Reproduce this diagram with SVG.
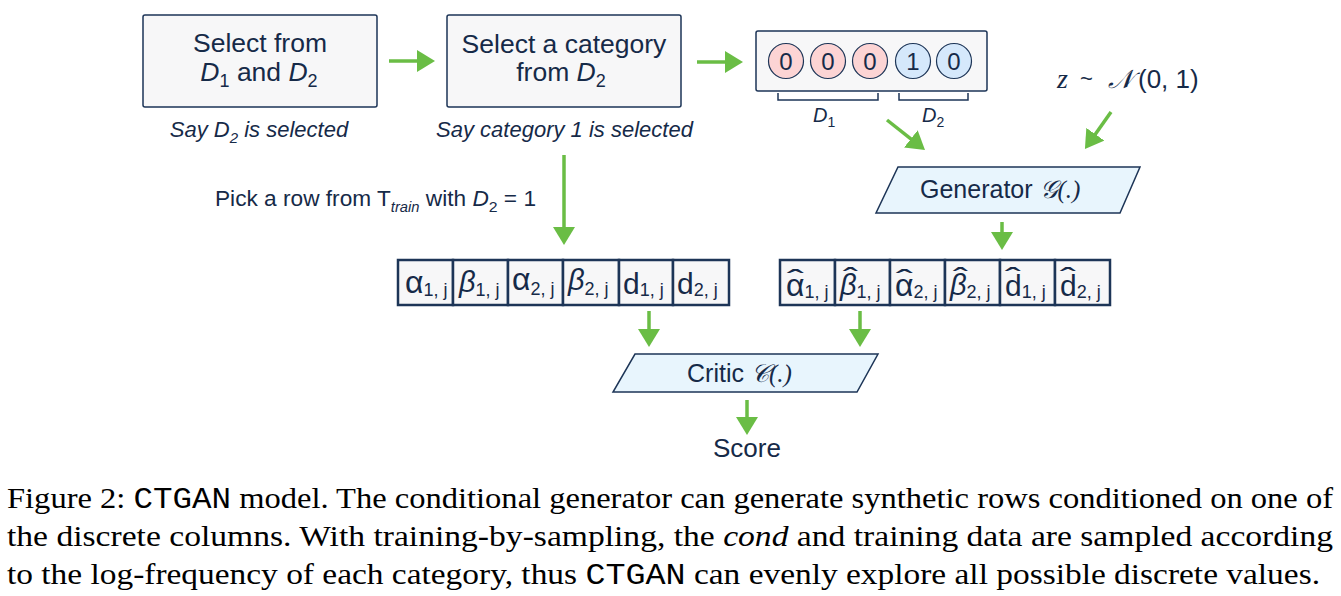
<svg xmlns="http://www.w3.org/2000/svg" width="1341" height="596" viewBox="0 0 1341 596">
<style>
.box{fill:#f7f7f8;stroke:#1d3557;stroke-width:1.5}
.cell{fill:#f7f7f8;stroke:#1d3557;stroke-width:2.5}
.para{fill:#e8f5fd;stroke:#1d3557;stroke-width:1.5}
.t{fill:#162a48;font-family:"Liberation Sans",Arial,sans-serif}
.m{font-family:"Liberation Serif","Times New Roman",serif;font-style:italic}
.cap{fill:#000;font-size:30px;font-family:"Liberation Serif","Times New Roman",serif}
.mono{font-family:"Liberation Mono","Courier New",monospace}
.arr{stroke:#6abd45;stroke-width:3.5;fill:none;marker-end:url(#ah)}
.pink{fill:#fcd4d4;stroke:#1d3557;stroke-width:1.2}
.blue{fill:#d5e8fb;stroke:#1d3557;stroke-width:1.2}
.br{fill:none;stroke:#1d3557;stroke-width:1.5}
</style>
<defs>
<marker id="ah" markerUnits="userSpaceOnUse" markerWidth="20" markerHeight="22" refX="4" refY="11" orient="auto">
<path d="M0,0 L18,11 L0,22 Z" fill="#6abd45"/>
</marker>
</defs>
<rect width="1341" height="596" fill="#fff"/>

<g id="select1">
<rect class="box" x="143" y="15" width="234" height="92" rx="2"/>
<text class="t" x="260" y="52" font-size="26.5" text-anchor="middle">Select from</text>
<text class="t" x="259" y="81" font-size="26.5" text-anchor="middle"><tspan font-style="italic">D</tspan><tspan font-size="18" dy="6">1</tspan><tspan dy="-6"> and </tspan><tspan font-style="italic">D</tspan><tspan font-size="18" dy="6">2</tspan></text>
<text class="t" x="259" y="137" font-size="22" font-style="italic" text-anchor="middle">Say D<tspan font-size="15" dy="6">2</tspan><tspan dy="-6"> is selected</tspan></text>
</g>

<g id="select2">
<rect class="box" x="447" y="15" width="234" height="92" rx="2"/>
<text class="t" x="564" y="53" font-size="26.5" text-anchor="middle">Select a category</text>
<text class="t" x="561" y="81" font-size="26.5" text-anchor="middle">from <tspan font-style="italic">D</tspan><tspan font-size="18" dy="6">2</tspan></text>
<text class="t" x="564.5" y="137" font-size="22" font-style="italic" text-anchor="middle">Say category 1 is selected</text>
</g>

<g id="cond">
<rect class="box" x="756" y="31" width="231" height="60" rx="2"/>
<circle class="pink" cx="786" cy="61" r="17.5"/>
<circle class="pink" cx="828" cy="61" r="17.5"/>
<circle class="pink" cx="870" cy="61" r="17.5"/>
<circle class="blue" cx="913" cy="61" r="17.5"/>
<circle class="blue" cx="954" cy="61" r="17.5"/>
<text class="t" font-size="24" text-anchor="middle" x="786" y="70">0</text>
<text class="t" font-size="24" text-anchor="middle" x="828" y="70">0</text>
<text class="t" font-size="24" text-anchor="middle" x="870" y="70">0</text>
<text class="t" font-size="24" text-anchor="middle" x="913" y="70">1</text>
<text class="t" font-size="24" text-anchor="middle" x="954" y="70">0</text>
<path class="br" d="M778,93 V100 H878 V93"/>
<path class="br" d="M899,93 V100 H968 V93"/>
<text class="t" x="813" y="122" font-size="20" font-style="italic">D<tspan font-size="14" dy="5" font-style="normal">1</tspan></text>
<text class="t" x="922" y="122" font-size="20" font-style="italic">D<tspan font-size="14" dy="5" font-style="normal">2</tspan></text>
</g>

<g id="noise">
<text class="t" x="1057" y="88" font-size="26"><tspan class="m" font-size="28">z</tspan><tspan x="1080" font-size="22" dy="-2">~</tspan><tspan class="m" x="1108" dy="2">𝒩</tspan><tspan x="1138">(0, 1)</tspan></text>
</g>

<g id="generator">
<polygon class="para" points="898,167 1140,167 1120,213 876,213"/>
<text class="t" x="920" y="198" font-size="25">Generator <tspan class="m">𝒢(.)</tspan></text>
</g>

<g id="pick">
<text class="t" x="215" y="206" font-size="21.5" textLength="321" lengthAdjust="spacingAndGlyphs">Pick a row from T<tspan font-size="14" font-style="italic" dy="6">train</tspan><tspan dy="-6"> with </tspan><tspan font-style="italic">D</tspan><tspan font-size="15" dy="6">2</tspan><tspan dy="-6"> = 1</tspan></text>
</g>

<g id="real-row">
<rect class="cell" x="398" y="260" width="55" height="45"/>
<rect class="cell" x="453" y="260" width="55" height="45"/>
<rect class="cell" x="508" y="260" width="55" height="45"/>
<rect class="cell" x="563" y="260" width="56" height="45"/>
<rect class="cell" x="619" y="260" width="54" height="45"/>
<rect class="cell" x="673" y="260" width="56" height="45"/>
<text class="t" font-size="32" x="405" y="293">α<tspan font-size="18" dy="3">1, j</tspan></text>
<text class="t" font-size="29" x="459" y="292"><tspan font-style="italic">β</tspan><tspan font-size="18" dy="4">1, j</tspan></text>
<text class="t" font-size="32" x="512" y="290">α<tspan font-size="18" dy="5">2, j</tspan></text>
<text class="t" font-size="29" x="568" y="290"><tspan font-style="italic">β</tspan><tspan font-size="18" dy="5">2, j</tspan></text>
<text class="t" font-size="30" x="623" y="294">d<tspan font-size="18" dy="2">1, j</tspan></text>
<text class="t" font-size="30" x="677" y="294">d<tspan font-size="18" dy="2">2, j</tspan></text>
</g>

<g id="fake-row">
<rect class="cell" x="780" y="260" width="55" height="45"/>
<rect class="cell" x="835" y="260" width="55" height="45"/>
<rect class="cell" x="890" y="260" width="55" height="45"/>
<rect class="cell" x="945" y="260" width="55" height="45"/>
<rect class="cell" x="1000" y="260" width="55" height="45"/>
<rect class="cell" x="1055" y="260" width="55" height="45"/>
<text class="t" font-size="32" x="786" y="296">α<tspan font-size="18" dy="2">1, j</tspan><tspan x="787" y="290" font-size="30" textLength="17" lengthAdjust="spacingAndGlyphs">ˆ</tspan></text>
<text class="t" font-size="29" x="840" y="295"><tspan font-style="italic">β</tspan><tspan font-size="18" dy="3">1, j</tspan><tspan x="843" y="288" font-size="30" textLength="15" lengthAdjust="spacingAndGlyphs">ˆ</tspan></text>
<text class="t" font-size="32" x="895" y="296">α<tspan font-size="18" dy="2">2, j</tspan><tspan x="896" y="290" font-size="30" textLength="17" lengthAdjust="spacingAndGlyphs">ˆ</tspan></text>
<text class="t" font-size="29" x="950" y="295"><tspan font-style="italic">β</tspan><tspan font-size="18" dy="3">2, j</tspan><tspan x="953" y="288" font-size="30" textLength="15" lengthAdjust="spacingAndGlyphs">ˆ</tspan></text>
<text class="t" font-size="30" x="1005" y="296">d<tspan font-size="18" dy="2">1, j</tspan><tspan x="1005" y="288" font-size="30" textLength="16" lengthAdjust="spacingAndGlyphs">ˆ</tspan></text>
<text class="t" font-size="30" x="1060" y="296">d<tspan font-size="18" dy="2">2, j</tspan><tspan x="1060" y="288" font-size="30" textLength="16" lengthAdjust="spacingAndGlyphs">ˆ</tspan></text>
</g>

<g id="critic">
<polygon class="para" points="635,354 878,354 857,392 613,392"/>
<text class="t" x="687" y="382" font-size="25">Critic <tspan class="m">𝒞(.)</tspan></text>
</g>

<g id="score">
<text class="t" x="747" y="457" font-size="26" text-anchor="middle">Score</text>
</g>

<g id="connectors">
<line class="arr" x1="389" y1="61" x2="421" y2="61"/>
<line class="arr" x1="697" y1="62" x2="729" y2="62"/>
<line class="arr" x1="887" y1="120" x2="914" y2="141.3"/>
<line class="arr" x1="1111" y1="112" x2="1093" y2="137.5"/>
<line class="arr" x1="564" y1="155" x2="564" y2="231"/>
<line class="arr" x1="1002" y1="222" x2="1002" y2="236"/>
<line class="arr" x1="649" y1="311" x2="649" y2="333"/>
<line class="arr" x1="860" y1="311" x2="860" y2="333"/>
<line class="arr" x1="747" y1="400" x2="747" y2="421"/>
</g>

<g id="caption">
<text class="cap" x="7" y="508" textLength="1326" lengthAdjust="spacingAndGlyphs">Figure 2: <tspan class="mono">CTGAN</tspan> model. The conditional generator can generate synthetic rows conditioned on one of</text>
<text class="cap" x="7" y="546" textLength="1326" lengthAdjust="spacingAndGlyphs">the discrete columns. With training-by-sampling, the <tspan font-style="italic">cond</tspan> and training data are sampled according</text>
<text class="cap" x="7" y="584" textLength="1313" lengthAdjust="spacingAndGlyphs">to the log-frequency of each category, thus <tspan class="mono">CTGAN</tspan> can evenly explore all possible discrete values.</text>
</g>
</svg>
